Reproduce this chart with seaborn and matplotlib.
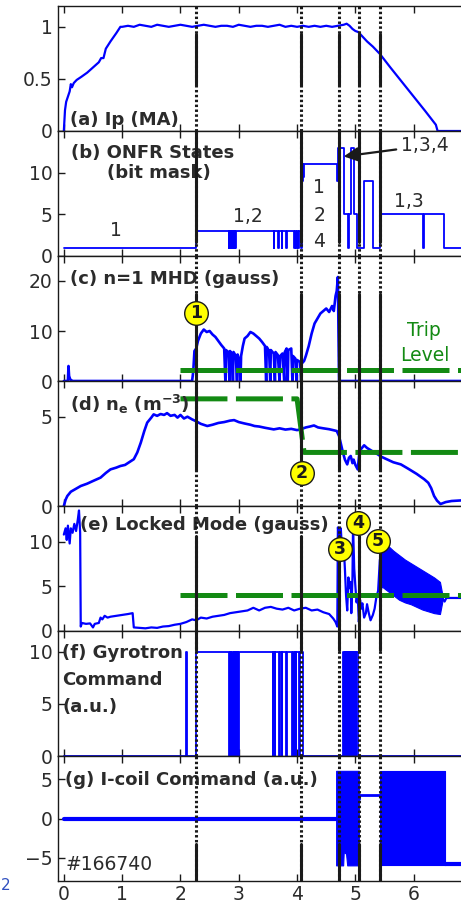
import matplotlib
matplotlib.use("Agg")
import matplotlib.pyplot as plt
import pandas as pd
import seaborn as sns

# ---------------------------------------------------------------- data
# (a) plasma current, MA
ip_trace = [
    (0.0, 0.0), (0.02, 0.2), (0.04, 0.28), (0.07, 0.33), (0.1, 0.38), (0.12, 0.45),
    (0.14, 0.42), (0.17, 0.46), (0.22, 0.49), (0.3, 0.52), (0.4, 0.56), (0.5, 0.61),
    (0.6, 0.66), (0.64, 0.70), (0.68, 0.70), (0.72, 0.79), (0.8, 0.86), (0.9, 0.94),
    (0.97, 1.0), (1.0, 1.0), (1.1, 1.01), (1.2, 1.0), (1.3, 1.02), (1.4, 1.01), (1.5, 1.0),
    (1.6, 1.02), (1.7, 1.01), (1.8, 1.0), (1.9, 1.01), (2.0, 1.02), (2.1, 1.01), (2.2, 1.0),
    (2.3, 1.01), (2.4, 1.02), (2.5, 1.01), (2.6, 1.0), (2.7, 1.01), (2.8, 1.01), (2.9, 1.0),
    (3.0, 1.02), (3.1, 1.01), (3.2, 1.0), (3.3, 1.01), (3.4, 1.01), (3.5, 1.0), (3.6, 1.01),
    (3.7, 1.02), (3.8, 1.0), (3.9, 1.01), (4.0, 1.0), (4.1, 1.01), (4.2, 1.0), (4.3, 1.01),
    (4.4, 1.0), (4.5, 1.01), (4.6, 1.0), (4.7, 1.01), (4.8, 1.02), (4.85, 1.03), (4.9, 1.01),
    (4.95, 0.98), (5.0, 0.96), (5.05, 0.95), (5.1, 0.92), (5.2, 0.86), (5.3, 0.81),
    (5.42, 0.74), (5.6, 0.61), (5.8, 0.47), (6.0, 0.33), (6.2, 0.19), (6.38, 0.06),
    (6.41, 0.0), (7.0, 0.0),
]

# (b) ONFR state bit mask (held until next change)
onfr_steps = [
    (0.0, 1), (2.27, 3), (2.83, 1), (2.84, 3), (2.85, 1), (2.86, 3), (2.87, 1), (2.875, 3),
    (2.885, 1), (2.895, 3), (2.9, 1), (2.91, 3), (2.92, 1), (2.93, 3), (2.94, 1), (2.95, 3),
    (3.6, 1), (3.61, 3), (3.68, 1), (3.69, 3), (3.74, 1), (3.75, 3), (3.81, 1), (3.82, 3),
    (3.95, 1), (3.96, 3), (3.99, 1), (4.0, 3), (4.02, 1), (4.03, 3), (4.06, 1), (4.08, 11),
    (4.09, 9), (4.1, 11), (4.11, 9.5), (4.12, 11), (4.69, 9), (4.71, 13), (4.80, 5),
    (4.88, 1), (4.89, 5), (4.93, 13), (4.97, 5), (5.03, 1), (5.15, 9), (5.30, 1), (5.42, 5),
    (6.16, 1), (6.17, 5), (6.52, 1), (7.0, 1),
]
onfr_labels = [("1", 0.89, 3.1), ("1,2", 3.15, 4.7), ("1", 4.38, 8.2), ("2", 4.38, 4.9),
               ("4", 4.38, 1.7), ("1,3", 5.92, 6.5)]

# (c) n=1 MHD amplitude, gauss
mhd_trace = [
    (0.0, 0.0), (0.07, 0.0), (0.08, 3.0), (0.09, 1.0), (0.11, 0.3), (0.15, 0.0), (2.2, 0.0),
    (2.22, 2.0), (2.24, 6.0), (2.27, 6.5), (2.3, 8.0), (2.35, 9.5), (2.4, 10.3), (2.45, 9.8),
    (2.5, 10.0), (2.55, 9.3), (2.6, 8.8), (2.65, 8.0), (2.7, 7.2), (2.75, 6.5), (2.77, 0.0),
    (2.78, 6.2), (2.82, 5.8), (2.84, 0.0), (2.85, 6.0), (2.88, 5.5), (2.9, 0.0), (2.91, 5.8),
    (2.95, 5.0), (2.97, 0.0), (2.98, 5.3), (3.0, 4.5), (3.03, 0.0), (3.04, 5.0), (3.07, 7.0),
    (3.1, 8.5), (3.15, 9.0), (3.2, 9.8), (3.25, 9.5), (3.3, 9.0), (3.35, 8.5), (3.4, 7.8),
    (3.45, 7.0), (3.47, 0.0), (3.48, 6.8), (3.52, 6.0), (3.54, 0.0), (3.55, 6.2), (3.6, 5.5),
    (3.62, 0.0), (3.63, 5.8), (3.67, 5.2), (3.7, 0.0), (3.71, 5.0), (3.75, 5.5), (3.78, 0.0),
    (3.79, 5.8), (3.82, 6.5), (3.84, 0.0), (3.85, 6.2), (3.9, 6.5), (3.92, 0.0), (3.93, 5.0),
    (3.97, 4.5), (3.99, 0.0), (4.0, 4.2), (4.05, 3.8), (4.07, 0.0), (4.08, 3.5), (4.12, 4.0),
    (4.15, 5.0), (4.2, 7.0), (4.25, 9.5), (4.3, 11.5), (4.35, 12.5), (4.4, 13.5), (4.45, 14.0),
    (4.5, 14.5), (4.55, 13.8), (4.6, 15.0), (4.63, 14.0), (4.66, 17.0), (4.68, 18.0),
    (4.7, 20.8), (4.71, 10.0), (4.72, 0.0), (7.0, 0.0),
]
mhd_trip = [(2.0, 2.3), (7.0, 2.3)]

# (d) line-averaged density, 1e19 m^-3
ne_trace = [
    (0.0, 0.0), (0.03, 0.35), (0.06, 0.56), (0.12, 0.8), (0.2, 0.95), (0.29, 1.12),
    (0.4, 1.25), (0.5, 1.4), (0.63, 1.59), (0.72, 1.85), (0.8, 2.05), (0.9, 2.15),
    (0.97, 2.24), (1.05, 2.3), (1.12, 2.45), (1.2, 2.62), (1.26, 3.0), (1.32, 3.55),
    (1.38, 4.2), (1.43, 4.67), (1.5, 4.95), (1.54, 5.13), (1.6, 5.05), (1.66, 5.15),
    (1.72, 5.1), (1.77, 5.2), (1.83, 5.05), (1.9, 5.1), (1.95, 4.95), (2.0, 5.1), (2.06, 4.9),
    (2.12, 5.0), (2.2, 4.85), (2.26, 4.76), (2.35, 4.6), (2.46, 4.48), (2.55, 4.55),
    (2.65, 4.65), (2.75, 4.7), (2.85, 4.78), (2.92, 4.81), (3.0, 4.7), (3.1, 4.62),
    (3.2, 4.55), (3.27, 4.48), (3.35, 4.45), (3.45, 4.38), (3.6, 4.29), (3.7, 4.35),
    (3.8, 4.28), (3.9, 4.32), (4.0, 4.25), (4.06, 4.29), (4.15, 4.4), (4.22, 4.45),
    (4.29, 4.51), (4.36, 4.4), (4.45, 4.35), (4.55, 4.3), (4.63, 4.24), (4.68, 4.2),
    (4.72, 3.92), (4.75, 3.5), (4.78, 3.08), (4.82, 2.6), (4.86, 2.33), (4.89, 2.7),
    (4.92, 2.8), (4.95, 2.4), (4.97, 2.6), (5.0, 2.3), (5.04, 2.05), (5.07, 3.0), (5.1, 3.2),
    (5.15, 3.4), (5.2, 3.25), (5.3, 3.05), (5.38, 2.9), (5.45, 2.75), (5.55, 2.6),
    (5.65, 2.45), (5.78, 2.33), (5.9, 2.1), (6.05, 1.8), (6.18, 1.5), (6.25, 1.3),
    (6.3, 1.0), (6.35, 0.56), (6.4, 0.3), (6.46, 0.11), (6.55, 0.22), (6.65, 0.28),
    (6.75, 0.3), (6.9, 0.33),
]
ne_limit = [(2.0, 6.0), (4.0, 6.0), (4.12, 3.0), (7.0, 3.0)]

# (e) locked-mode amplitude, gauss
lm_trace = [
    (0.0, 10.8), (0.03, 11.5), (0.05, 10.2), (0.07, 11.8), (0.1, 9.8), (0.12, 11.5),
    (0.15, 11.0), (0.18, 12.0), (0.21, 11.2), (0.24, 12.5), (0.26, 13.5), (0.28, 11.0),
    (0.29, 0.5), (0.31, 0.9), (0.38, 0.8), (0.45, 0.85), (0.5, 0.4), (0.53, 0.8), (0.6, 0.9),
    (0.63, 1.5), (0.66, 1.3), (0.7, 1.7), (0.75, 1.5), (0.8, 1.6), (0.9, 1.7), (1.0, 1.8),
    (1.1, 1.9), (1.18, 2.0), (1.2, 0.4), (1.3, 0.35), (1.4, 0.3), (1.5, 0.4), (1.6, 0.35),
    (1.7, 0.5), (1.8, 0.55), (1.9, 0.7), (2.0, 0.8), (2.1, 1.0), (2.2, 1.3), (2.27, 1.2),
    (2.35, 1.5), (2.45, 1.4), (2.55, 1.6), (2.65, 1.7), (2.75, 1.8), (2.85, 2.0), (2.95, 2.1),
    (3.05, 2.2), (3.15, 2.3), (3.25, 2.6), (3.35, 2.3), (3.45, 2.6), (3.55, 2.7), (3.65, 2.5),
    (3.75, 2.4), (3.85, 2.6), (3.95, 2.3), (4.05, 2.5), (4.15, 2.6), (4.25, 2.3), (4.35, 2.4),
    (4.45, 2.1), (4.55, 1.9), (4.62, 1.4), (4.66, 1.0), (4.69, 0.5), (4.7, 11.6),
    (4.73, 10.2), (4.75, 11.5), (4.78, 8.0), (4.8, 9.5), (4.82, 7.0), (4.84, 4.0),
    (4.86, 2.3), (4.88, 6.0), (4.9, 4.8), (4.92, 5.5), (4.93, 2.0), (4.95, 6.0),
    (4.96, 11.8), (4.98, 7.0), (5.0, 5.0), (5.02, 3.2), (5.04, 4.0), (5.06, 1.0), (5.08, 3.5),
    (5.1, 2.5), (5.12, 3.1), (5.15, 1.5), (5.18, 2.0), (5.2, 3.0), (5.23, 2.0), (5.26, 1.2),
    (5.3, 1.8), (5.33, 2.5), (5.36, 3.8), (5.39, 4.5), (5.42, 8.0),
]
lm_band_t = [5.42, 5.45, 5.55, 5.65, 5.75, 5.85, 5.95, 6.05, 6.15, 6.25, 6.35, 6.45, 6.5]
lm_band_hi = [8.0, 9.8, 9.6, 9.0, 8.5, 8.0, 7.6, 7.2, 6.8, 6.4, 6.0, 5.5, 3.8]
lm_band_lo = [4.0, 5.0, 4.5, 4.0, 3.5, 3.2, 3.0, 2.7, 2.4, 2.2, 2.0, 1.9, 3.6]
lm_tail = [(6.5, 3.6), (6.53, 3.3), (6.56, 3.7), (6.7, 3.7), (7.0, 3.7)]
lm_trip = [(2.0, 4.0), (7.0, 4.0)]

# (f) gyrotron command, a.u. (held until next change)
gyro_steps = [
    (0.0, 0), (2.09, 10), (2.12, 0), (2.27, 10), (2.83, 0), (2.845, 10), (2.855, 0),
    (2.87, 10), (2.875, 0), (2.89, 10), (2.895, 0), (2.91, 10), (2.915, 0), (2.93, 10),
    (2.94, 0), (2.955, 10), (2.96, 0), (2.98, 10), (2.99, 0), (3.01, 10), (3.58, 0),
    (3.59, 10), (3.62, 0), (3.63, 10), (3.69, 0), (3.70, 10), (3.74, 0), (3.75, 10),
    (3.81, 0), (3.82, 10), (3.92, 0), (3.93, 10), (3.95, 0), (3.96, 10), (3.98, 0),
    (3.99, 10), (4.04, 0), (4.05, 10), (4.11, 0), (4.79, 10), (4.81, 0), (4.815, 10),
    (4.83, 0), (4.835, 10), (4.85, 0), (4.855, 10), (4.87, 0), (4.875, 10), (4.89, 0),
    (4.9, 10), (4.91, 0), (4.915, 10), (4.93, 0), (4.935, 10), (4.95, 0), (4.955, 10),
    (4.97, 0), (4.975, 10), (4.99, 0), (4.995, 10), (5.01, 0), (5.015, 10), (5.04, 0),
    (7.0, 0),
]

# (g) I-coil command, a.u.
icoil_idle = [(0.0, 0.0), (4.67, 0.0)]
icoil_band1_t = [4.67, 4.79, 4.8, 4.84, 4.86, 5.06]
icoil_band1_hi = [6.1, 6.1, 6.1, 6.1, 6.1, 6.1]
icoil_band1_lo = [-6.0, -6.0, -4.3, -4.5, -6.0, -6.0]
icoil_hold = [(5.06, 2.5), (5.06, 3.0), (5.42, 3.0)]
icoil_band2_t = [5.42, 6.53]
icoil_band2_hi = [6.1, 6.1]
icoil_band2_lo = [-6.0, -6.0]
icoil_tail = [(6.53, -5.8), (7.0, -5.8)]

# event times marked across all panels
event_times = [2.27, 4.07, 4.72, 5.06, 5.42]
# numbered events: (panel, label, t, value)
event_marks = [(2, "1", 2.27, 13.6), (3, "2", 4.08, 1.87), (4, "3", 4.73, 9.24),
               (4, "4", 5.05, 12.15), (4, "5", 5.39, 10.07)]

# ---------------------------------------------------------------- style
sns.set_theme(style="ticks")
plt.rcParams["font.family"] = ["DejaVu Sans"]
plt.rcParams["mathtext.default"] = "bf"

BLUE = "#0000ff"
GREEN = "#138a13"
INK = "#2b2b2b"

W, H = 461, 909
fig = plt.figure(figsize=(W / 100, H / 100), dpi=100)

left_px, width_px = 58, 414
top_px, panel_px = 6, 125
n_panels = 7
axes = []
for i in range(n_panels):
    bottom = 1 - (top_px + panel_px * (i + 1)) / H
    ax = fig.add_axes([left_px / W, bottom, width_px / W, panel_px / H])
    axes.append(ax)

ylims = [(0, 1.2), (0, 15), (0, 25), (0, 7), (0, 14), (0, 12), (-8, 8)]
yticks = [[0, 0.5, 1], [0, 5, 10], [0, 10, 20], [0, 5], [0, 5, 10], [0, 5, 10], [-5, 0, 5]]
yticklabels = [["0", "0.5", "1"], None, None, None, None, None, None]


def trace(ax, pts, **kw):
    df = pd.DataFrame(pts, columns=["t", "v"])
    sns.lineplot(data=df, x="t", y="v", ax=ax, estimator=None, sort=False,
                 legend=False, **kw)


def trip(ax, pts):
    df = pd.DataFrame(pts, columns=["t", "v"])
    sns.lineplot(data=df, x="t", y="v", ax=ax, estimator=None, sort=False,
                 legend=False, color=GREEN, lw=3.6, dashes=(9.4, 1.7), zorder=4)


# (a)
trace(axes[0], ip_trace, color=BLUE, lw=1.6)
# (b)
trace(axes[1], onfr_steps, color=BLUE, lw=1.3, drawstyle="steps-post")
# (c)
trace(axes[2], mhd_trace, color=BLUE, lw=1.9)
trip(axes[2], mhd_trip)
# (d)
trace(axes[3], ne_trace, color=BLUE, lw=1.9)
trip(axes[3], ne_limit)
# (e)
trace(axes[4], lm_trace, color=BLUE, lw=1.6)
axes[4].fill_between(lm_band_t, lm_band_lo, lm_band_hi, color=BLUE, lw=0.8)
trace(axes[4], lm_tail, color=BLUE, lw=1.6)
trip(axes[4], lm_trip)
# (f)
trace(axes[5], gyro_steps, color=BLUE, lw=1.3, drawstyle="steps-post")
# (g)
trace(axes[6], icoil_idle, color=BLUE, lw=3.0)
axes[6].fill_between(icoil_band1_t, icoil_band1_lo, icoil_band1_hi, color=BLUE, lw=0.8)
trace(axes[6], icoil_hold, color=BLUE, lw=2.0)
axes[6].fill_between(icoil_band2_t, icoil_band2_lo, icoil_band2_hi, color=BLUE, lw=0.8)
trace(axes[6], icoil_tail, color=BLUE, lw=3.0)

# solid portions of the event lines in each panel (axes fraction)
solid_spans = [[(0.37, 0.78)], [(0.11, 1.0)], [(0.0, 0.70)], [(0.29, 1.0)],
               [(0.0, 0.76)], [(0.85, 1.0)], [(0.0, 0.30)]]

for i, ax in enumerate(axes):
    ax.set_xlim(-0.1, 7.0)
    ax.set_ylim(*ylims[i])
    ax.set_yticks(yticks[i])
    if yticklabels[i] is not None:
        ax.set_yticklabels(yticklabels[i])
    ax.set_xticks(range(0, 7))
    ax.set_xlabel("")
    ax.set_ylabel("")
    ax.tick_params(direction="in", length=5, width=1, top=True, right=False,
                   labelsize=13.5, labelcolor=INK, colors="k", pad=3)
    ax.tick_params(axis="y", pad=4)
    if i < n_panels - 1:
        ax.tick_params(axis="x", labelbottom=False)
    for s in ax.spines.values():
        s.set_linewidth(1.0)
        s.set_color("k")
    for tv in event_times:
        ax.axvline(tv, color="k", lw=2.2, dashes=(0.8, 0.8), zorder=5)
        for y0, y1 in solid_spans[i]:
            ax.axvline(tv, ymin=y0, ymax=y1, color="k", lw=2.2, zorder=5)

# numbered event circles
for p, lab, tv, val in event_marks:
    ax = axes[p]
    ax.plot([tv], [val], "o", ms=17, mfc="#ffff00", mec="k", mew=1.0, zorder=7)
    ax.text(tv, val, lab, ha="center", va="center", fontsize=12.5, fontweight="bold",
            color="k", zorder=8)

# panel titles
bold = dict(fontsize=13, fontweight="bold", color=INK, ha="left", va="center", zorder=4)
axes[0].text(0.029, 0.09, "(a) Ip (MA)", transform=axes[0].transAxes, **bold)
axes[1].text(0.031, 0.82, "(b) ONFR States", transform=axes[1].transAxes, **bold)
axes[1].text(0.118, 0.66, "(bit mask)", transform=axes[1].transAxes, **bold)
axes[2].text(0.029, 0.82, "(c) n=1 MHD (gauss)", transform=axes[2].transAxes, **bold)
axes[3].text(0.029, 0.81, r"(d) n$_e$ (m$^{-3}$)", transform=axes[3].transAxes, **bold)
axes[4].text(0.053, 0.85, "(e) Locked Mode (gauss)", transform=axes[4].transAxes, **bold)
axes[5].text(0.01, 0.82, "(f) Gyrotron", transform=axes[5].transAxes, **bold)
axes[5].text(0.01, 0.61, "Command", transform=axes[5].transAxes, **bold)
axes[5].text(0.01, 0.39, "(a.u.)", transform=axes[5].transAxes, **bold)
axes[6].text(0.017, 0.81, "(g) I-coil Command (a.u.)", transform=axes[6].transAxes, **bold)
axes[6].text(0.017, 0.13, "#166740", transform=axes[6].transAxes, fontsize=13.5,
             color=INK, ha="left", va="center")

# state annotations in (b)
for lab, tv, val in onfr_labels:
    axes[1].text(tv, val, lab, ha="center", va="center", fontsize=13.5, color=INK)
axes[1].annotate("1,3,4", xy=(4.80, 11.95), xytext=(5.78, 13.2), ha="left", va="center",
                 fontsize=13.5, color=INK, zorder=9,
                 arrowprops=dict(arrowstyle="-|>", color="k", lw=1.6, mutation_scale=22,
                                 shrinkA=1, shrinkB=0, relpos=(0.0, 0.35)))

# trip level note in (c)
axes[2].text(6.17, 10.2, "Trip", ha="center", va="center", fontsize=13.5, color=GREEN)
axes[2].text(6.19, 5.2, "Level", ha="center", va="center", fontsize=13.5, color=GREEN)

fig.text(0.001, 0.026, "2", fontsize=11, color="#3050c0", ha="left", va="center")

fig.savefig("out.png", dpi=100)
